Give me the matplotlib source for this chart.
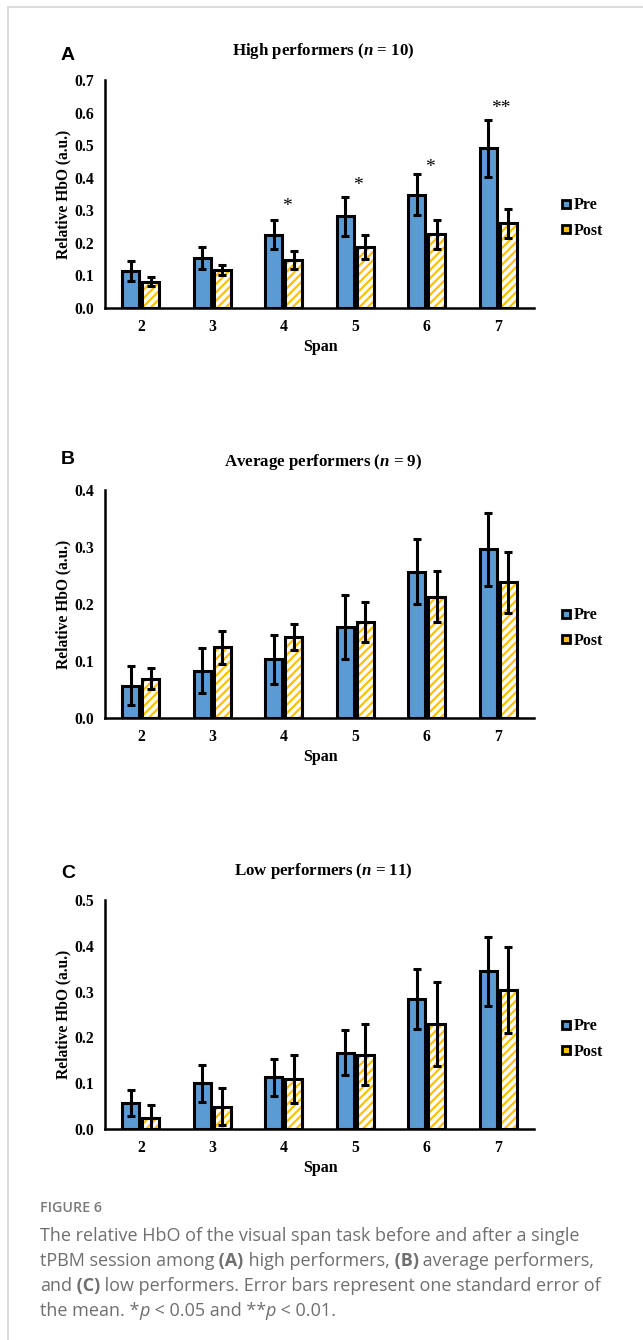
import matplotlib
matplotlib.use('Agg')
import matplotlib.pyplot as plt
from matplotlib.lines import Line2D
from matplotlib.text import Annotation
import numpy as np

plt.rcParams['font.family'] = 'Liberation Serif'
plt.rcParams['font.weight'] = 'bold'
plt.rcParams['mathtext.fontset'] = 'custom'
plt.rcParams['mathtext.rm'] = 'Liberation Serif:bold'
plt.rcParams['mathtext.it'] = 'Liberation Serif:italic:bold'
plt.rcParams['hatch.linewidth'] = 1.6

# data
spans = ['2', '3', '4', '5', '6', '7']

high_pre = [0.114, 0.154, 0.225, 0.282, 0.347, 0.490]
high_pre_se = [0.030, 0.033, 0.044, 0.060, 0.063, 0.087]
high_post = [0.081, 0.117, 0.148, 0.186, 0.226, 0.260]
high_post_se = [0.013, 0.016, 0.028, 0.037, 0.045, 0.045]
high_sig = ['', '', '*', '*', '*', '**']

avg_pre = [0.057, 0.083, 0.103, 0.159, 0.257, 0.296]
avg_pre_se = [0.035, 0.039, 0.043, 0.056, 0.057, 0.064]
avg_post = [0.069, 0.124, 0.142, 0.168, 0.213, 0.238]
avg_post_se = [0.018, 0.029, 0.023, 0.035, 0.045, 0.054]

low_pre = [0.057, 0.100, 0.113, 0.167, 0.284, 0.344]
low_pre_se = [0.029, 0.040, 0.040, 0.049, 0.066, 0.076]
low_post = [0.024, 0.049, 0.109, 0.162, 0.229, 0.303]
low_post_se = [0.028, 0.041, 0.052, 0.067, 0.092, 0.094]

BLUE = '#5B9BD5'
GOLD = '#FFC000'
W, H = 643, 1340

fig = plt.figure(figsize=(W / 100, H / 100), dpi=100)

def fx(px):
    return px / W

def fy(py):
    return 1 - py / H

panels = [
    dict(letter='A', title='High performers ($n$ = 10)', pre=high_pre, pre_se=high_pre_se,
         post=high_post, post_se=high_post_se, ymax=0.7, top=80, bottom=308,
         title_y=51, letter_y=55, leg_y=218, sig=high_sig),
    dict(letter='B', title='Average performers ($n$ = 9)', pre=avg_pre, pre_se=avg_pre_se,
         post=avg_post, post_se=avg_post_se, ymax=0.4, top=490, bottom=718,
         title_y=462, letter_y=460, leg_y=628, sig=None),
    dict(letter='C', title='Low performers ($n$ = 11)', pre=low_pre, pre_se=low_pre_se,
         post=low_post, post_se=low_post_se, ymax=0.5, top=900, bottom=1129,
         title_y=871, letter_y=873, leg_y=1039, sig=None),
]

# hand-placed heights of the significance marks in panel A
star_y = [0, 0, 0.312, 0.377, 0.432, 0.612]

x = np.arange(len(spans)) + 2
bw, off = 0.24, 0.14

for p in panels:
    ax = fig.add_axes([fx(105), fy(p['bottom']), fx(534) - fx(105), (p['bottom'] - p['top']) / H])
    ax.bar(x - off, p['pre'], bw, color=BLUE, edgecolor='black', lw=2.2, zorder=2)
    ax.bar(x + off, p['post'], bw, color='white', edgecolor=GOLD, hatch='////', lw=0, zorder=2)
    ax.bar(x + off, p['post'], bw, fill=False, edgecolor='black', lw=2.2, zorder=3)
    ax.errorbar(x - off, p['pre'], yerr=p['pre_se'], fmt='none', ecolor='black',
                elinewidth=2.2, capsize=3.2, capthick=2.2, zorder=4)
    ax.errorbar(x + off, p['post'], yerr=p['post_se'], fmt='none', ecolor='black',
                elinewidth=2.2, capsize=3.2, capthick=2.2, zorder=4)

    ax.set_xlim(1.5, 7.5)
    ax.set_ylim(0, p['ymax'])
    ax.set_xticks(x)
    ax.set_xticklabels(spans)
    yt = np.arange(0, p['ymax'] + 0.001, 0.1)
    ax.set_yticks(yt)
    ax.set_yticklabels([f'{v:.1f}' for v in yt])
    ax.tick_params(length=0, labelsize=11.3)
    ax.tick_params(axis='x', pad=8)
    ax.tick_params(axis='y', pad=8)
    for s in ['top', 'right']:
        ax.spines[s].set_visible(False)
    for s in ['left', 'bottom']:
        ax.spines[s].set_linewidth(1.8)
    ax.patch.set_visible(False)

    if p['sig']:
        for xi, s, yv in zip(x, p['sig'], star_y):
            if s:
                ax.text(xi + 0.04, yv, s, ha='center', va='center', fontsize=14, fontweight='normal')

    handles = [Line2D([], [], ls='none', marker='s', markersize=5.5, mfc=BLUE, mec='black', mew=2),
               Line2D([], [], ls='none', marker='s', markersize=5.5, mfc=GOLD, mec='black', mew=2)]
    ax.legend(handles, ['Pre', 'Post'], loc='center left', bbox_to_anchor=(fx(561), fy(p['leg_y'])),
              bbox_transform=fig.transFigure, frameon=False, fontsize=11.5, handlelength=0.6,
              handletextpad=0.2, labelspacing=0.58, borderpad=0, borderaxespad=0)

    fig.text(fx(323), fy(p['title_y']), p['title'], ha='center', va='center', fontsize=12.2)
    fig.text(fx(68), fy(p['letter_y']), p['letter'], ha='center', va='center', fontsize=14,
             family='Liberation Sans', fontweight='bold')
    fig.text(fx(63), fy((p['top'] + p['bottom']) / 2), 'Relative HbO (a.u.)', rotation=90,
             ha='center', va='center', fontsize=11.2)
    fig.text(fx(320), fy(p['bottom'] + 39), 'Span', ha='center', va='center', fontsize=11.5)

# frame lines around the figure block
fig.add_artist(Line2D([fx(8), 1], [fy(7), fy(7)], transform=fig.transFigure, color='#d6d6d6', lw=1.2))
fig.add_artist(Line2D([fx(8), fx(8)], [fy(7), 0], transform=fig.transFigure, color='#d6d6d6', lw=1.2))

# caption
CAP = '#6f6f6f'
fig.text(fx(40), fy(1208), 'FIGURE 6', ha='left', va='center', fontsize=10.3, color='#7a7a7a',
         family='Open Sans', fontweight='semibold')

def rich_line(px, py, parts):
    prev = None
    for s, w, st in parts:
        kw = dict(fontsize=13, color=CAP, family='Open Sans', fontweight=w, fontstyle=st,
                  ha='left', va='bottom')
        if prev is None:
            prev = fig.text(fx(px), fy(py), s, **kw)
        else:
            a = Annotation(s, xy=(1, 0), xycoords=prev, xytext=(0, 0), textcoords='offset points', **kw)
            fig.add_artist(a)
            prev = a

N, B, I = 'normal', 'bold', 'italic'
rich_line(40, 1245, [('The relative HbO of the visual span task before and after a single', N, N)])
rich_line(40, 1270, [('tPBM session among', N, N), (' (A)', B, N), (' high performers,', N, N),
                     (' (B)', B, N), (' average performers,', N, N)])
rich_line(40, 1295, [('and', N, N), (' (C)', B, N),
                     (' low performers. Error bars represent one standard error of', N, N)])
rich_line(40, 1320, [('the mean. *', N, N), ('p', N, I), (' < 0.05 and **', N, N), ('p', N, I),
                     (' < 0.01.', N, N)])

fig.savefig('out.png', dpi=100)
